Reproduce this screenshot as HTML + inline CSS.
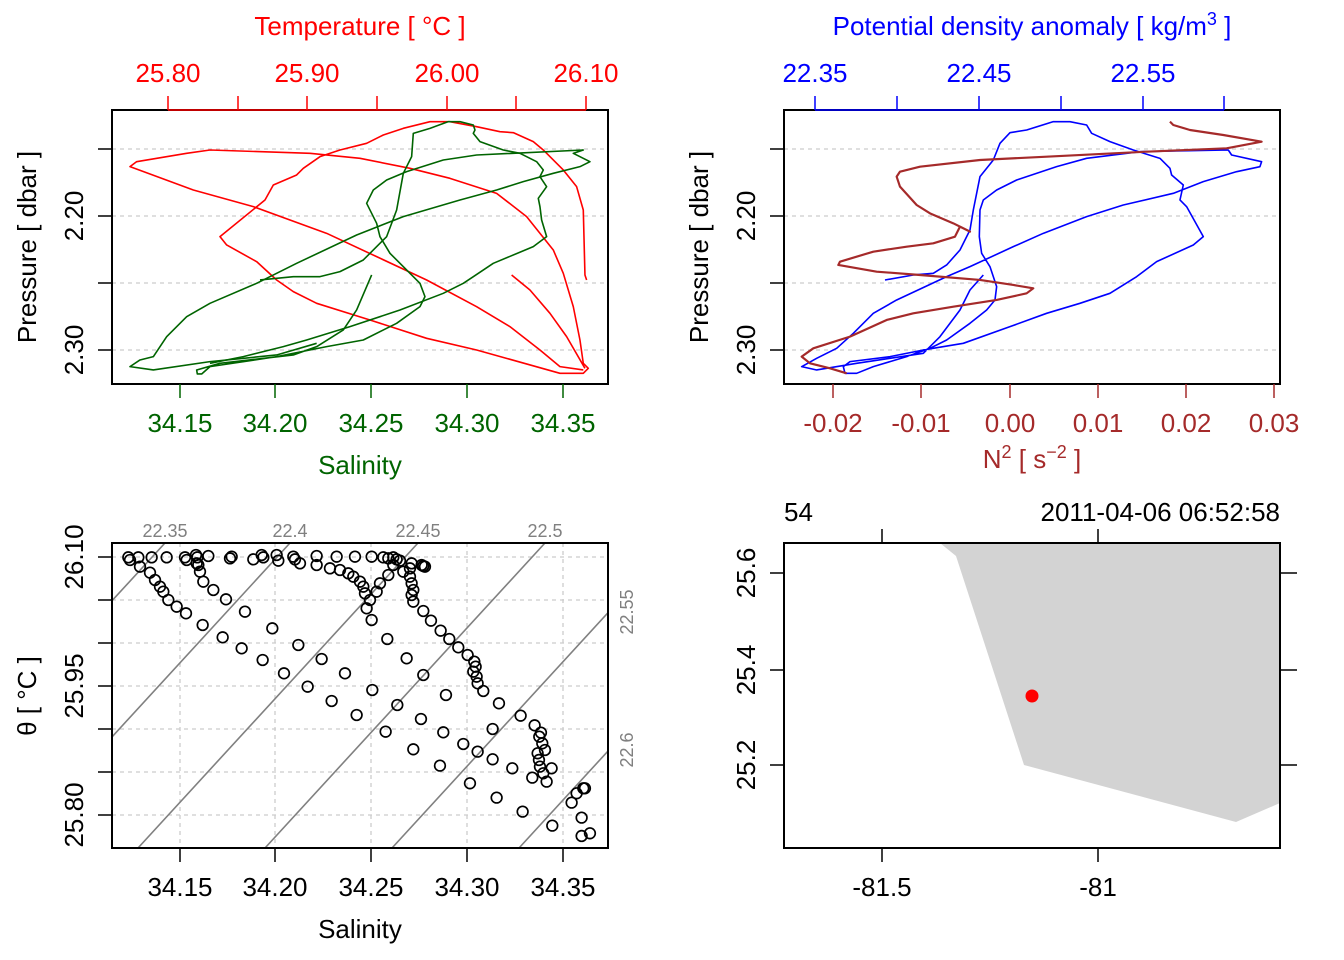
<!DOCTYPE html>
<html><head><meta charset="utf-8"><style>
body{margin:0;background:#fff}
svg{display:block}
text{font-family:"Liberation Sans",sans-serif;font-size:26px}
</style></head><body>
<svg width="1344" height="960" viewBox="0 0 1344 960" xmlns="http://www.w3.org/2000/svg">
<!-- ============ TOP LEFT ============ -->
<g stroke="#ccc" stroke-width="1.3" stroke-dasharray="4,4">
<line x1="112" y1="149" x2="608" y2="149"/><line x1="112" y1="216" x2="608" y2="216"/><line x1="112" y1="283" x2="608" y2="283"/><line x1="112" y1="350" x2="608" y2="350"/>
</g>
<g transform="translate(110,110) scale(0.3333)" fill="none" stroke-width="4.8" stroke-linejoin="round">
<path stroke="#ff0000" d="M1430,510 L1425,495 L1420,300 L1400,230 L1360,180 L1300,120 L1270,95 L1210,68 L1170,65 L1100,50 L1020,35 L960,35 L880,55 L820,75 L770,100 L690,120 L630,140 L580,175 L560,195 L490,225 L465,270 L330,380 L350,405 L440,455 L500,510 L550,545 L620,580 L780,630 L950,685 L1100,720 L1350,790 L1420,790 L1435,775 L1420,760 L1410,690 L1390,590 L1360,490 L1330,420 L1250,320 L1160,250 L1020,205 L900,175 L750,145 L600,130 L300,120 L230,130 L80,155 L60,170 L250,240 L430,290 L650,370 L800,440 L950,510 L1100,590 L1200,650 L1290,720 L1350,770 L1420,780"/>
<path stroke="#ff0000" d="M1205,495 L1260,540 L1320,610 L1370,680 L1425,775"/>
<path stroke="#006400" d="M785,495 L740,600 L700,660 L620,710 L550,735 L330,760 L260,780 L262,792 L275,792 L300,770 L500,740 L650,710 L760,690 L860,640 L930,590 L945,560 L930,520 L900,490 L840,430 L810,380 L800,340 L770,280 L790,240 L830,210 L890,185 L1000,150 L1100,135 L1420,120 L1390,130 L1440,155 L1410,170 L1330,190 L1240,215 L1160,240 L1050,270 L880,320 L740,375 L560,460 L440,520 L300,580 L230,620 L170,680 L130,740 L90,750 L60,770 L130,780 L300,755 L500,735 L620,700"/>
<path stroke="#006400" d="M450,510 L550,500 L630,500 L690,485 L760,450 L830,380 L860,300 L880,190 L905,140 L910,70 L960,55 L1015,35 L1050,35 L1090,45 L1095,60 L1090,70 L1110,95 L1180,120 L1230,130 L1280,155 L1300,180 L1290,200 L1310,230 L1285,265 L1290,290 L1295,330 L1310,380 L1270,410 L1150,460 L1090,500 L1060,520 L1000,550 L870,600 L720,650 L590,690 L520,710 L400,740 L300,760"/>
</g>
<rect x="112" y="110" width="496" height="274" fill="none" stroke="#000" stroke-width="2"/>
<g stroke="#ff0000" stroke-width="1.5">
<line x1="168" y1="110" x2="586" y2="110"/>
<line x1="168" y1="110" x2="168" y2="96"/><line x1="238" y1="110" x2="238" y2="96"/><line x1="307" y1="110" x2="307" y2="96"/><line x1="377" y1="110" x2="377" y2="96"/><line x1="447" y1="110" x2="447" y2="96"/><line x1="516" y1="110" x2="516" y2="96"/><line x1="586" y1="110" x2="586" y2="96"/>
</g>
<g fill="#ff0000" text-anchor="middle">
<text x="168" y="82">25.80</text><text x="307" y="82">25.90</text><text x="447" y="82">26.00</text><text x="586" y="82">26.10</text>
<text x="360" y="35">Temperature [ °C ]</text>
</g>
<g stroke="#006400" stroke-width="1.5">
<line x1="180" y1="384" x2="180" y2="398"/><line x1="275" y1="384" x2="275" y2="398"/><line x1="371" y1="384" x2="371" y2="398"/><line x1="467" y1="384" x2="467" y2="398"/><line x1="563" y1="384" x2="563" y2="398"/>
</g>
<g fill="#006400" text-anchor="middle">
<text x="180" y="432">34.15</text><text x="275" y="432">34.20</text><text x="371" y="432">34.25</text><text x="467" y="432">34.30</text><text x="563" y="432">34.35</text>
<text x="360" y="474">Salinity</text>
</g>
<g stroke="#000" stroke-width="1.5">
<line x1="112" y1="149" x2="98" y2="149"/><line x1="112" y1="216" x2="98" y2="216"/><line x1="112" y1="283" x2="98" y2="283"/><line x1="112" y1="350" x2="98" y2="350"/>
</g>
<text transform="translate(83,216) rotate(-90)" text-anchor="middle">2.20</text>
<text transform="translate(83,350) rotate(-90)" text-anchor="middle">2.30</text>
<text transform="translate(36,247) rotate(-90)" text-anchor="middle">Pressure [ dbar ]</text>

<!-- ============ TOP RIGHT ============ -->
<g stroke="#ccc" stroke-width="1.3" stroke-dasharray="4,4">
<line x1="784" y1="149" x2="1280" y2="149"/><line x1="784" y1="216" x2="1280" y2="216"/><line x1="784" y1="283" x2="1280" y2="283"/><line x1="784" y1="350" x2="1280" y2="350"/>
</g>
<g transform="translate(780,110) scale(0.3333)" fill="none" stroke-linejoin="round">
<path stroke="#0000ff" stroke-width="4.8" d="M315,510 L400,495 L460,490 L500,465 L540,420 L570,360 L580,300 L600,200 L640,150 L660,100 L690,68 L740,60 L820,35 L870,35 L920,45 L935,70 L990,95 L1060,120 L1140,145 L1170,175 L1175,195 L1210,225 L1200,270 L1220,290 L1270,380 L1240,405 L1130,455 L1070,500 L990,550 L900,580 L800,610 L690,650 L550,700 L430,720 L330,740 L210,755 L190,770 L195,790 L230,790 L280,770 L380,740 L450,715 L500,690 L570,640 L620,600 L645,570 L650,530 L630,470 L605,430 L598,380 L600,300 L610,270 L650,240 L710,210 L830,170 L920,145 L1080,125 L1345,120 L1355,135 L1445,155 L1440,170 L1370,185 L1270,215 L1180,250 L1030,285 L920,320 L790,370 L700,410 L570,470 L500,500 L350,570 L280,610 L220,670 L170,715 L110,745 L65,770 L110,780 L230,760 L330,745 L430,730 L480,680 L540,600 L570,540 L610,495"/>
<path stroke="#a52a2a" stroke-width="6.5" d="M1170,35 L1180,45 L1230,60 L1330,75 L1445,95 L1340,115 L1100,125 L800,140 L600,150 L420,170 L360,185 L350,200 L360,230 L410,285 L450,310 L520,340 L570,365 L540,350 L525,380 L460,400 L380,410 L280,425 L180,455 L175,465 L290,485 L420,495 L600,510 L700,525 L760,535 L740,550 L650,570 L520,590 L400,610 L320,630 L210,680 L100,715 L65,740 L90,760 L150,775 L200,790"/>
</g>
<rect x="784" y="110" width="496" height="274" fill="none" stroke="#000" stroke-width="2"/>
<g stroke="#0000ff" stroke-width="1.5">
<line x1="815" y1="110" x2="1224" y2="110"/>
<line x1="815" y1="110" x2="815" y2="96"/><line x1="897" y1="110" x2="897" y2="96"/><line x1="979" y1="110" x2="979" y2="96"/><line x1="1061" y1="110" x2="1061" y2="96"/><line x1="1143" y1="110" x2="1143" y2="96"/><line x1="1224" y1="110" x2="1224" y2="96"/>
</g>
<g fill="#0000ff" text-anchor="middle">
<text x="815" y="82">22.35</text><text x="979" y="82">22.45</text><text x="1143" y="82">22.55</text>
<text x="1032" y="35">Potential density anomaly [ kg/m<tspan dy="-10" font-size="18">3</tspan><tspan dy="10"> ]</tspan></text>
</g>
<g stroke="#a52a2a" stroke-width="1.5">
<line x1="833" y1="384" x2="833" y2="398"/><line x1="921" y1="384" x2="921" y2="398"/><line x1="1010" y1="384" x2="1010" y2="398"/><line x1="1098" y1="384" x2="1098" y2="398"/><line x1="1186" y1="384" x2="1186" y2="398"/><line x1="1274" y1="384" x2="1274" y2="398"/>
</g>
<g fill="#a52a2a" text-anchor="middle">
<text x="833" y="432">-0.02</text><text x="921" y="432">-0.01</text><text x="1010" y="432">0.00</text><text x="1098" y="432">0.01</text><text x="1186" y="432">0.02</text><text x="1274" y="432">0.03</text>
<text x="1032" y="468">N<tspan dy="-10" font-size="18">2</tspan><tspan dy="10"> [ s</tspan><tspan dy="-10" font-size="18">−2</tspan><tspan dy="10"> ]</tspan></text>
</g>
<g stroke="#000" stroke-width="1.5">
<line x1="784" y1="149" x2="770" y2="149"/><line x1="784" y1="216" x2="770" y2="216"/><line x1="784" y1="283" x2="770" y2="283"/><line x1="784" y1="350" x2="770" y2="350"/>
</g>
<text transform="translate(755,216) rotate(-90)" text-anchor="middle">2.20</text>
<text transform="translate(755,350) rotate(-90)" text-anchor="middle">2.30</text>
<text transform="translate(708,247) rotate(-90)" text-anchor="middle">Pressure [ dbar ]</text>

<!-- ============ BOTTOM LEFT ============ -->
<defs><clipPath id="c3"><rect x="112" y="543" width="496" height="305"/></clipPath></defs>
<g stroke="#ccc" stroke-width="1.3" stroke-dasharray="4,4">
<line x1="180" y1="543" x2="180" y2="848"/><line x1="275" y1="543" x2="275" y2="848"/><line x1="371" y1="543" x2="371" y2="848"/><line x1="467" y1="543" x2="467" y2="848"/><line x1="563" y1="543" x2="563" y2="848"/>
<line x1="112" y1="557" x2="608" y2="557"/><line x1="112" y1="600" x2="608" y2="600"/><line x1="112" y1="643" x2="608" y2="643"/><line x1="112" y1="686" x2="608" y2="686"/><line x1="112" y1="729" x2="608" y2="729"/><line x1="112" y1="772" x2="608" y2="772"/><line x1="112" y1="815" x2="608" y2="815"/>
</g>
<g clip-path="url(#c3)" stroke="#808080" stroke-width="1.6">
<line x1="-115" y1="848" x2="165" y2="543"/>
<line x1="10" y1="848" x2="290" y2="543"/>
<line x1="138" y1="848" x2="418" y2="543"/>
<line x1="265" y1="848" x2="545" y2="543"/>
<line x1="392" y1="848" x2="672" y2="543"/>
<line x1="519" y1="848" x2="799" y2="543"/>
</g>
<g fill="#808080" text-anchor="middle">
<text x="165" y="537" style="font-size:18px">22.35</text><text x="290" y="537" style="font-size:18px">22.4</text><text x="418" y="537" style="font-size:18px">22.45</text><text x="545" y="537" style="font-size:18px">22.5</text>
<text transform="translate(633,612) rotate(-90)" style="font-size:18px">22.55</text>
<text transform="translate(633,750) rotate(-90)" style="font-size:18px">22.6</text>
</g>
<g transform="translate(110,540) scale(0.3333)" fill="none" stroke="#000" stroke-width="5">
<circle cx="55" cy="52" r="16"/><circle cx="85" cy="52" r="16"/><circle cx="125" cy="52" r="16"/><circle cx="170" cy="52" r="16"/><circle cx="225" cy="52" r="16"/><circle cx="258" cy="45" r="16"/><circle cx="262" cy="52" r="16"/><circle cx="295" cy="48" r="16"/><circle cx="360" cy="55" r="16"/><circle cx="365" cy="50" r="16"/><circle cx="430" cy="58" r="16"/><circle cx="455" cy="45" r="16"/><circle cx="460" cy="52" r="16"/><circle cx="500" cy="45" r="16"/><circle cx="505" cy="62" r="16"/><circle cx="550" cy="50" r="16"/><circle cx="555" cy="58" r="16"/><circle cx="620" cy="48" r="16"/><circle cx="680" cy="50" r="16"/><circle cx="735" cy="50" r="16"/><circle cx="785" cy="50" r="16"/><circle cx="820" cy="52" r="16"/><circle cx="850" cy="52" r="16"/><circle cx="860" cy="58" r="16"/><circle cx="870" cy="62" r="16"/><circle cx="940" cy="78" r="16"/>
<circle cx="60" cy="60" r="16"/><circle cx="90" cy="80" r="16"/><circle cx="120" cy="98" r="16"/><circle cx="135" cy="120" r="16"/><circle cx="150" cy="140" r="16"/><circle cx="160" cy="155" r="16"/><circle cx="175" cy="180" r="16"/><circle cx="200" cy="200" r="16"/><circle cx="228" cy="220" r="16"/><circle cx="278" cy="255" r="16"/><circle cx="338" cy="292" r="16"/><circle cx="395" cy="325" r="16"/><circle cx="458" cy="360" r="16"/><circle cx="522" cy="400" r="16"/><circle cx="593" cy="440" r="16"/><circle cx="665" cy="483" r="16"/><circle cx="740" cy="525" r="16"/><circle cx="827" cy="575" r="16"/><circle cx="910" cy="628" r="16"/><circle cx="990" cy="677" r="16"/><circle cx="1080" cy="730" r="16"/><circle cx="1160" cy="773" r="16"/><circle cx="1238" cy="815" r="16"/><circle cx="1327" cy="857" r="16"/><circle cx="1415" cy="888" r="16"/><circle cx="1440" cy="880" r="16"/>
<circle cx="265" cy="75" r="16"/><circle cx="270" cy="95" r="16"/><circle cx="280" cy="125" r="16"/><circle cx="310" cy="150" r="16"/><circle cx="348" cy="178" r="16"/><circle cx="405" cy="215" r="16"/><circle cx="487" cy="265" r="16"/><circle cx="565" cy="315" r="16"/><circle cx="635" cy="357" r="16"/><circle cx="705" cy="400" r="16"/><circle cx="787" cy="450" r="16"/><circle cx="862" cy="495" r="16"/><circle cx="933" cy="537" r="16"/><circle cx="1000" cy="577" r="16"/><circle cx="1060" cy="612" r="16"/><circle cx="1103" cy="635" r="16"/><circle cx="1148" cy="658" r="16"/><circle cx="1207" cy="685" r="16"/><circle cx="1267" cy="713" r="16"/>
<circle cx="230" cy="60" r="16"/><circle cx="260" cy="70" r="16"/><circle cx="570" cy="70" r="16"/><circle cx="620" cy="75" r="16"/><circle cx="660" cy="85" r="16"/><circle cx="690" cy="90" r="16"/><circle cx="715" cy="100" r="16"/><circle cx="730" cy="110" r="16"/><circle cx="750" cy="125" r="16"/><circle cx="760" cy="140" r="16"/><circle cx="765" cy="160" r="16"/><circle cx="780" cy="180" r="16"/><circle cx="770" cy="205" r="16"/><circle cx="785" cy="240" r="16"/><circle cx="832" cy="297" r="16"/><circle cx="890" cy="355" r="16"/><circle cx="940" cy="405" r="16"/><circle cx="1008" cy="465" r="16"/><circle cx="1167" cy="490" r="16"/><circle cx="1232" cy="527" r="16"/><circle cx="1274" cy="556" r="16"/><circle cx="1293" cy="578" r="16"/><circle cx="1288" cy="590" r="16"/><circle cx="1297" cy="610" r="16"/><circle cx="1305" cy="630" r="16"/><circle cx="1283" cy="640" r="16"/><circle cx="1287" cy="660" r="16"/><circle cx="1290" cy="680" r="16"/><circle cx="1325" cy="685" r="16"/><circle cx="1300" cy="700" r="16"/><circle cx="1310" cy="725" r="16"/><circle cx="1385" cy="788" r="16"/><circle cx="1400" cy="760" r="16"/><circle cx="1420" cy="745" r="16"/><circle cx="1425" cy="745" r="16"/><circle cx="1415" cy="833" r="16"/>
<circle cx="835" cy="105" r="16"/><circle cx="810" cy="130" r="16"/><circle cx="800" cy="155" r="16"/><circle cx="835" cy="55" r="16"/><circle cx="850" cy="75" r="16"/><circle cx="880" cy="95" r="16"/><circle cx="900" cy="85" r="16"/><circle cx="905" cy="70" r="16"/><circle cx="935" cy="75" r="16"/><circle cx="945" cy="80" r="16"/><circle cx="900" cy="110" r="16"/><circle cx="905" cy="130" r="16"/><circle cx="910" cy="150" r="16"/><circle cx="905" cy="165" r="16"/><circle cx="910" cy="185" r="16"/><circle cx="940" cy="213" r="16"/><circle cx="963" cy="242" r="16"/><circle cx="992" cy="272" r="16"/><circle cx="1018" cy="297" r="16"/><circle cx="1045" cy="322" r="16"/><circle cx="1073" cy="345" r="16"/><circle cx="1093" cy="365" r="16"/><circle cx="1097" cy="380" r="16"/><circle cx="1090" cy="395" r="16"/><circle cx="1100" cy="410" r="16"/><circle cx="1103" cy="430" r="16"/><circle cx="1120" cy="453" r="16"/><circle cx="1148" cy="567" r="16"/>
</g>
<rect x="112" y="543" width="496" height="305" fill="none" stroke="#000" stroke-width="2"/>
<g stroke="#000" stroke-width="1.5">
<line x1="180" y1="848" x2="180" y2="862"/><line x1="275" y1="848" x2="275" y2="862"/><line x1="371" y1="848" x2="371" y2="862"/><line x1="467" y1="848" x2="467" y2="862"/><line x1="563" y1="848" x2="563" y2="862"/>
<line x1="112" y1="557" x2="98" y2="557"/><line x1="112" y1="600" x2="98" y2="600"/><line x1="112" y1="643" x2="98" y2="643"/><line x1="112" y1="686" x2="98" y2="686"/><line x1="112" y1="729" x2="98" y2="729"/><line x1="112" y1="772" x2="98" y2="772"/><line x1="112" y1="815" x2="98" y2="815"/>
</g>
<g text-anchor="middle">
<text x="180" y="896">34.15</text><text x="275" y="896">34.20</text><text x="371" y="896">34.25</text><text x="467" y="896">34.30</text><text x="563" y="896">34.35</text>
<text x="360" y="938">Salinity</text>
<text transform="translate(83,557) rotate(-90)">26.10</text>
<text transform="translate(83,686) rotate(-90)">25.95</text>
<text transform="translate(83,815) rotate(-90)">25.80</text>
<text transform="translate(36,696) rotate(-90)">θ [ °C ]</text>
</g>

<!-- ============ BOTTOM RIGHT ============ -->
<polygon points="940,543 956,556 1024,765 1236,822 1280,803 1280,543" fill="#d3d3d3"/>
<circle cx="1032" cy="696" r="6.5" fill="#ff0000"/>
<rect x="784" y="543" width="496" height="305" fill="none" stroke="#000" stroke-width="2"/>
<g stroke="#000" stroke-width="1.5">
<line x1="882" y1="848" x2="882" y2="862"/><line x1="1098" y1="848" x2="1098" y2="862"/>
<line x1="882" y1="543" x2="882" y2="529"/><line x1="1098" y1="543" x2="1098" y2="529"/>
<line x1="784" y1="573" x2="770" y2="573"/><line x1="784" y1="670" x2="770" y2="670"/><line x1="784" y1="765" x2="770" y2="765"/>
<line x1="1280" y1="573" x2="1297" y2="573"/><line x1="1280" y1="670" x2="1297" y2="670"/><line x1="1280" y1="765" x2="1297" y2="765"/>
</g>
<g text-anchor="middle">
<text x="882" y="896">-81.5</text><text x="1098" y="896">-81</text>
<text transform="translate(755,573) rotate(-90)">25.6</text>
<text transform="translate(755,670) rotate(-90)">25.4</text>
<text transform="translate(755,765) rotate(-90)">25.2</text>
</g>
<text x="784" y="521">54</text>
<text x="1280" y="521" text-anchor="end">2011-04-06 06:52:58</text>
</svg>
</body></html>
